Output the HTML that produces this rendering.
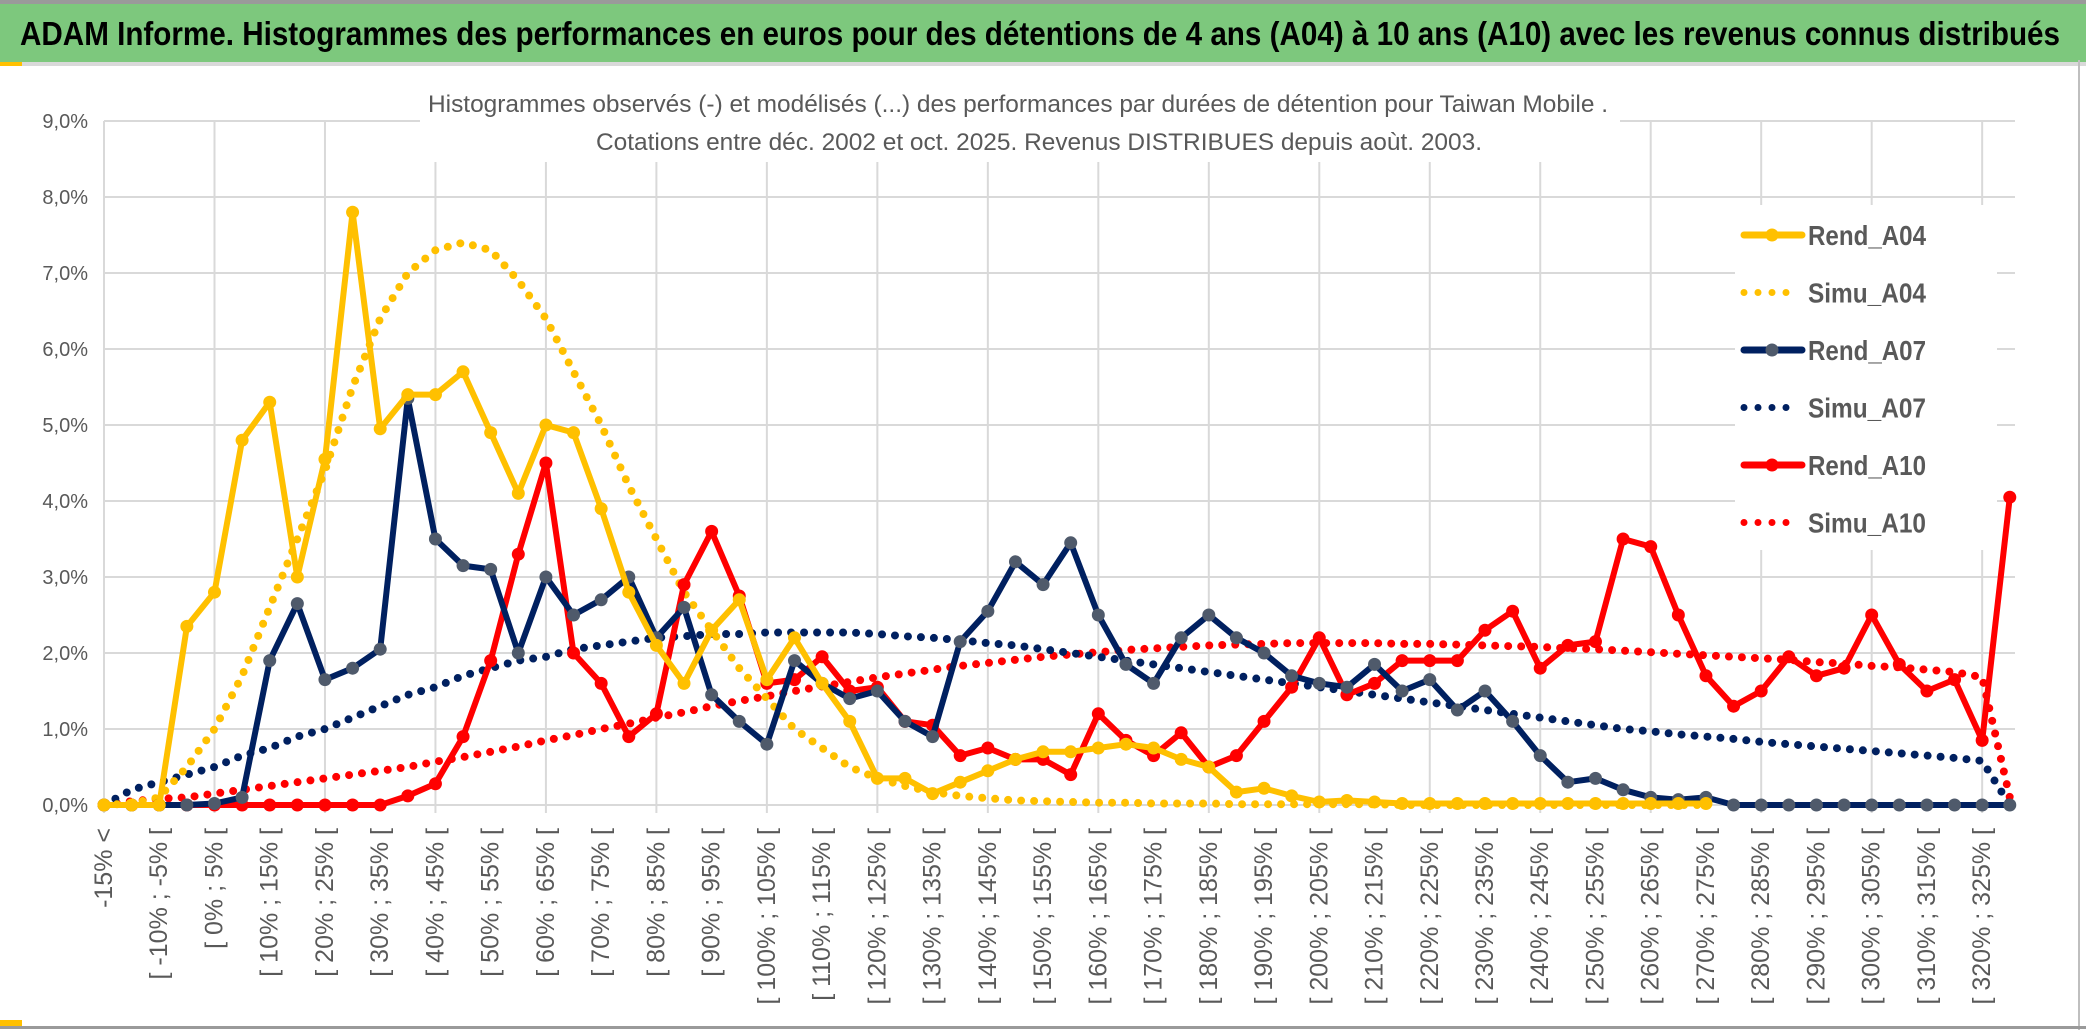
<!DOCTYPE html>
<html><head><meta charset="utf-8"><style>
html,body{margin:0;padding:0;background:#fff;}
svg{display:block;font-family:"Liberation Sans",sans-serif;}
</style></head><body>
<svg id="chart" width="2086" height="1033" viewBox="0 0 2086 1033" xmlns="http://www.w3.org/2000/svg">
<rect x="0" y="0" width="2086" height="1033" fill="#fff"/>
<rect x="0" y="4" width="2086" height="58" fill="#7dc87d"/>
<rect x="0" y="0" width="2086" height="4" fill="#9a9a9a"/>
<rect x="0" y="62" width="2086" height="4" fill="#d9d9d9"/>
<rect x="0" y="62" width="22" height="4" fill="#ffc000"/>
<text x="20" y="45" font-size="33" font-weight="bold" fill="#000" textLength="2040" lengthAdjust="spacingAndGlyphs">ADAM Informe. Histogrammes des performances en euros pour des détentions de 4 ans (A04) à 10 ans (A10) avec les revenus connus distribués</text>
<g id="grid"></g>
<rect x="420" y="80" width="1200" height="82" fill="#fff"/>
<text x="1018" y="112" font-size="24" fill="#595959" text-anchor="middle" textLength="1180" lengthAdjust="spacingAndGlyphs">Histogrammes observés (-) et modélisés (...) des performances par durées de détention pour Taiwan Mobile .</text>
<text x="1039" y="150" font-size="24" fill="#595959" text-anchor="middle" textLength="886" lengthAdjust="spacingAndGlyphs">Cotations entre déc. 2002 et oct. 2025. Revenus DISTRIBUES depuis aoùt. 2003.</text>
<g id="yaxis"></g>
<g id="xaxis"></g>
<g id="series"></g>
<g id="legend"></g>
<rect x="2078" y="60" width="2" height="970" fill="#bfbfbf"/>
<rect x="0" y="1026" width="2086" height="3" fill="#9a9a9a"/>
<rect x="0" y="1020" width="22" height="6" fill="#ffc000"/>
</svg>
<script>
const yTicks = [0,1,2,3,4,5,6,7,8,9];
const yTickLabels = ["0,0%","1,0%","2,0%","3,0%","4,0%","5,0%","6,0%","7,0%","8,0%","9,0%"];
const rendA04 = [0,0,0,2.35,2.8,4.8,5.3,3.0,4.55,7.8,4.95,5.4,5.4,5.7,4.9,4.1,5.0,4.9,3.9,2.8,2.1,1.6,2.3,2.7,1.65,2.2,1.6,1.1,0.35,0.35,0.15,0.3,0.45,0.6,0.7,0.7,0.75,0.8,0.75,0.6,0.5,0.17,0.22,0.12,0.04,0.06,0.04,0.02,0.02,0.02,0.02,0.02,0.02,0.02,0.02,0.02,0.02,0.02,0.02];
const simuA04 = [0,0.02,0.1,0.5,1.0,1.7,2.6,3.5,4.4,5.5,6.4,7.0,7.3,7.4,7.3,6.9,6.4,5.7,5.0,4.2,3.5,2.8,2.3,1.8,1.4,1.0,0.75,0.5,0.35,0.25,0.17,0.12,0.09,0.06,0.05,0.04,0.03,0.03,0.02,0.02,0.02,0.01,0.01,0.01,0.01,0.01,0.01,0,0,0,0,0,0,0,0,0,0,0,0];
const rendA07 = [0,0,0,0,0.02,0.1,1.9,2.65,1.65,1.8,2.05,5.35,3.5,3.15,3.1,2.0,3.0,2.5,2.7,3.0,2.2,2.6,1.45,1.1,0.8,1.9,1.6,1.4,1.5,1.1,0.9,2.15,2.55,3.2,2.9,3.45,2.5,1.85,1.6,2.2,2.5,2.2,2.0,1.7,1.6,1.55,1.85,1.5,1.65,1.25,1.5,1.1,0.65,0.3,0.35,0.2,0.1,0.07,0.1,0,0,0,0,0,0,0,0,0,0,0];
const simuA07 = [0,0.2,0.3,0.4,0.5,0.65,0.75,0.9,1.0,1.15,1.3,1.45,1.55,1.7,1.8,1.9,1.95,2.05,2.1,2.15,2.2,2.22,2.25,2.25,2.27,2.27,2.27,2.27,2.25,2.22,2.2,2.17,2.13,2.1,2.05,2.0,1.95,1.9,1.85,1.8,1.75,1.7,1.65,1.6,1.55,1.5,1.45,1.4,1.35,1.3,1.25,1.2,1.15,1.1,1.05,1.0,0.97,0.93,0.9,0.87,0.83,0.8,0.77,0.74,0.71,0.68,0.65,0.62,0.58,0];
const rendA10 = [0,0,0,0,0,0,0,0,0,0,0,0.12,0.28,0.9,1.9,3.3,4.5,2.0,1.6,0.9,1.2,2.9,3.6,2.75,1.6,1.65,1.95,1.5,1.55,1.1,1.05,0.65,0.75,0.6,0.6,0.4,1.2,0.85,0.65,0.95,0.5,0.65,1.1,1.55,2.2,1.45,1.6,1.9,1.9,1.9,2.3,2.55,1.8,2.1,2.15,3.5,3.4,2.5,1.7,1.3,1.5,1.95,1.7,1.8,2.5,1.85,1.5,1.65,0.85,4.05];
const simuA10 = [0,0.05,0.08,0.1,0.15,0.2,0.25,0.3,0.35,0.4,0.45,0.5,0.57,0.63,0.7,0.77,0.85,0.92,1.0,1.07,1.15,1.22,1.3,1.37,1.43,1.5,1.56,1.62,1.68,1.73,1.78,1.83,1.87,1.91,1.95,1.98,2.01,2.04,2.06,2.08,2.1,2.11,2.12,2.13,2.13,2.13,2.13,2.12,2.12,2.11,2.1,2.09,2.08,2.06,2.05,2.03,2.01,1.99,1.97,1.95,1.93,1.91,1.88,1.86,1.83,1.81,1.78,1.75,1.68,0.1];
const categories = [];
for (let k = 0; k < 70; k++) {
  if (k === 0) categories.push("-15% <");
  else if (k === 69) categories.push(">= 325%");
  else { const a = -15 + 5 * (k - 1); categories.push("[ " + a + "% ; " + (a + 5) + "% ["); }
}
const NS = "http://www.w3.org/2000/svg";
const X0 = 104, STEP = 27.62, Y0 = 805, PX = 76;
function xs(i){ return X0 + i * STEP; }
function ys(v){ return Y0 - v * PX; }
function mk(tag, attrs, parent){ const e = document.createElementNS(NS, tag); for (const k in attrs) e.setAttribute(k, attrs[k]); parent.appendChild(e); return e; }
const grid = document.getElementById('grid');
yTicks.forEach(t => {
  const l = mk('line', {x1: X0, x2: 2015, y1: ys(t), y2: ys(t), stroke: '#d9d9d9', 'stroke-width': 2}, grid);
  
  
});
for (let i = 0; i < 70; i += 4) {
  const l = mk('line', {x1: xs(i), x2: xs(i), y1: ys(9), y2: Y0 + 8, stroke: '#d9d9d9', 'stroke-width': 2}, grid);
  
  
}
const yaxis = document.getElementById('yaxis');
yTicks.forEach((t, i) => {
  const tx = mk('text', {x: 88, y: ys(t) + 7, 'font-size': 20, fill: '#595959', 'text-anchor': 'end'}, yaxis);
  tx.textContent = yTickLabels[i];
  
  
});
const xaxis = document.getElementById('xaxis');
categories.forEach((c, i) => {
  if (i % 2 !== 0) return;
  const x = xs(i) + 8, y = 828;
  const tx = mk('text', {x: x, y: y, 'font-size': 25, fill: '#595959', 'text-anchor': 'end', transform: 'rotate(-90 ' + x + ' ' + y + ')'}, xaxis);
  tx.textContent = c;
  
  
});
const seriesG = document.getElementById('series');
function pts(arr){ return arr.map((v, i) => xs(i).toFixed(1) + ',' + ys(v).toFixed(1)).join(' '); }
function dotted(arr, color, name){
  const p = mk('polyline', {points: pts(arr), fill: 'none', stroke: color, 'stroke-width': 8, 'stroke-linecap': 'round', 'stroke-dasharray': '0 13'}, seriesG);
  
  
}
function solid(arr, color, mcolor, name){
  const g = mk('g', {}, seriesG);
  
  
  mk('polyline', {points: pts(arr), fill: 'none', stroke: color, 'stroke-width': 6, 'stroke-linejoin': 'round'}, g);
  arr.forEach((v, i) => {
    const c = mk('circle', {cx: xs(i), cy: ys(v), r: 6.5, fill: mcolor}, g);
    
    
  });
}
dotted(simuA10, '#ff0000', 'simu-a10-line');
dotted(simuA07, '#002060', 'simu-a07-line');
dotted(simuA04, '#ffc000', 'simu-a04-line');
solid(rendA10, '#ff0000', '#ff0000', 'rend-a10-line');
solid(rendA07, '#002060', '#4f5a6b', 'rend-a07-line');
solid(rendA04, '#ffc000', '#ffc000', 'rend-a04-line');
const legend = document.getElementById('legend');
const bg = mk('rect', {x: 1735, y: 205, width: 262, height: 345, fill: '#fff'}, legend);


const legNames = ["Rend_A04","Simu_A04","Rend_A07","Simu_A07","Rend_A10","Simu_A10"];
const legColors = ['#ffc000','#ffc000','#002060','#002060','#ff0000','#ff0000'];
const legMarker = ['#ffc000',null,'#4f5a6b',null,'#ff0000',null];
legNames.forEach((n, i) => {
  const y = 235 + i * 57.5;
  const g = mk('g', {}, legend);
  
  
  if (legMarker[i]) {
    mk('line', {x1: 1744, x2: 1802, y1: y, y2: y, stroke: legColors[i], 'stroke-width': 7, 'stroke-linecap': 'round'}, g);
    mk('circle', {cx: 1772, cy: y, r: 6.5, fill: legMarker[i]}, g);
  } else {
    mk('line', {x1: 1744, x2: 1800, y1: y, y2: y, stroke: legColors[i], 'stroke-width': 7, 'stroke-linecap': 'round', 'stroke-dasharray': '0 14'}, g);
  }
  const t = mk('text', {x: 1808, y: y + 10, 'font-size': 28, fill: '#595959', 'font-weight': 'bold', textLength: 118, lengthAdjust: 'spacingAndGlyphs'}, g);
  t.textContent = n;
});
</script>
</body></html>
